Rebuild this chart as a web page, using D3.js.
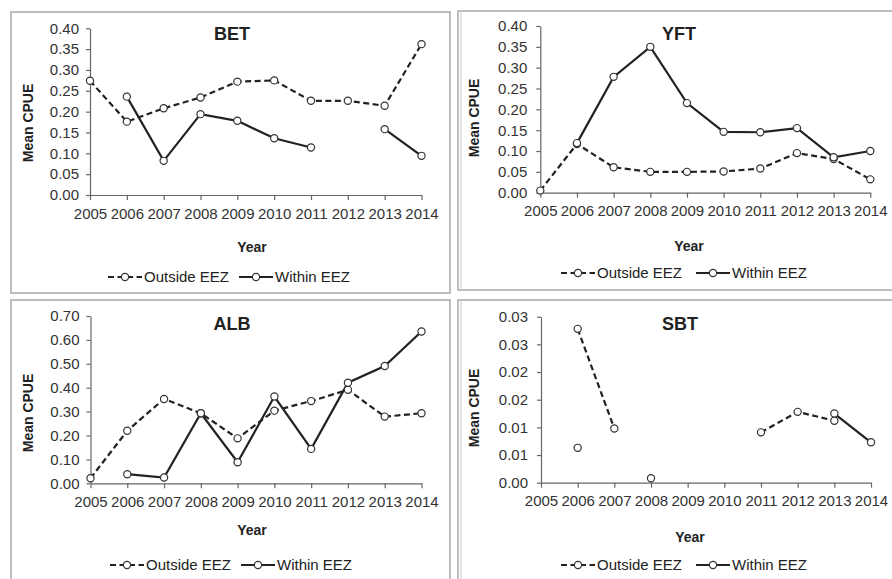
<!DOCTYPE html>
<html><head><meta charset="utf-8">
<script src="https://cdn.jsdelivr.net/npm/d3@7"></script>
<style>body{margin:0;background:#fff}svg{display:block}</style>
</head><body>
<svg id="c" width="892" height="579"></svg>
<script>
const years = [2005,2006,2007,2008,2009,2010,2011,2012,2013,2014];
const seriesNames = ["Outside EEZ","Within EEZ"];

const betOutside = [0.274,0.176,0.208,0.234,0.272,0.275,0.226,0.226,0.214,0.362];
const betWithin  = [null,0.236,0.082,0.194,0.178,0.136,0.114,null,0.158,0.094];
const yftOutside = [0.005,0.117,0.061,0.050,0.050,0.051,0.058,0.095,0.081,0.032];
const yftWithin  = [null,0.119,0.278,0.350,0.215,0.146,0.145,0.155,0.085,0.100];
const albOutside = [0.021,0.220,0.353,0.293,0.188,0.304,0.344,0.391,0.279,0.293];
const albWithin  = [null,0.038,0.024,0.293,0.088,0.363,0.144,0.421,0.491,0.635];
const sbtOutside = [null,0.0278,0.0098,null,null,null,0.0091,0.0128,0.0112,null];
const sbtWithin  = [null,0.0063,null,0.0008,null,null,null,null,0.0125,0.0073];

const betTicks = [0,0.05,0.10,0.15,0.20,0.25,0.30,0.35,0.40];
const yftTicks = [0,0.05,0.10,0.15,0.20,0.25,0.30,0.35,0.40];
const albTicks = [0,0.10,0.20,0.30,0.40,0.50,0.60,0.70];
const sbtTicks = [0,0.005,0.010,0.015,0.020,0.025,0.030];
const sbtTickLabels = ["0.00","0.01","0.01","0.02","0.02","0.03","0.03"];

const svg = d3.select("#c");
const INK = "#222";
const FONT = "Liberation Sans, Arial, sans-serif";

const panels = [
  {title:"BET", out:betOutside, wit:betWithin, ticks:betTicks, labels:null,
   box:[11,12,439,281], xr:[90,421.5], yr:[195,28.3], tpad:7,
   title_pos:[232,39.5], xlab:[252,252], ylab:[28,123], leg:{y:277,x:108}},
  {title:"YFT", out:yftOutside, wit:yftWithin, ticks:yftTicks, labels:null,
   box:[458,11,460,279], xr:[540.3,870.3], yr:[192.7,26], tpad:9,
   title_pos:[679,39.5], xlab:[689,251], ylab:[474,118], leg:{y:273,x:561}},
  {title:"ALB", out:albOutside, wit:albWithin, ticks:albTicks, labels:null,
   box:[11,300,439,300], xr:[90.5,421.5], yr:[483.3,316], tpad:7,
   title_pos:[232,329.5], xlab:[252,535], ylab:[28,413], leg:{y:565,x:110}},
  {title:"SBT", out:sbtOutside, wit:sbtWithin, ticks:sbtTicks, labels:sbtTickLabels,
   box:[458,300,460,300], xr:[541,871], yr:[482.7,316.7], tpad:9,
   title_pos:[680,329.5], xlab:[690,542], ylab:[474,408], leg:{y:565,x:561}}
];

panels.forEach(p => {
  const g = svg.append("g");
  const [bx,by,bw,bh] = p.box;
  g.append("rect").attr("x",bx).attr("y",by).attr("width",bw).attr("height",bh)
    .attr("fill","none").attr("stroke","#a8a8a8").attr("stroke-width",1.5);
  if (bx > 400) {
    g.append("line").attr("x1",bx+3).attr("x2",bx+3).attr("y1",by).attr("y2",by+bh)
      .attr("stroke","#c8c8c8").attr("stroke-width",1);
  }
  const x = d3.scaleLinear().domain([years[0], years[years.length-1]]).range(p.xr);
  const y = d3.scaleLinear().domain([0, p.ticks[p.ticks.length-1]]).range(p.yr);

  const yAxis = d3.axisLeft(y).tickValues(p.ticks).tickSize(4).tickSizeOuter(0).tickPadding(p.tpad)
    .tickFormat((d,i) => p.labels ? p.labels[i] : d3.format(".2f")(d));
  const ya = g.append("g").attr("transform",`translate(${p.xr[0]},0)`).call(yAxis);
  const xAxis = d3.axisBottom(x).tickValues(years).tickSize(5).tickSizeOuter(0).tickPadding(8)
    .tickFormat(d3.format("d"));
  const xa = g.append("g").attr("transform",`translate(0,${p.yr[0]})`).call(xAxis);
  [ya,xa].forEach(a => {
    a.selectAll("path,line").attr("stroke","#666").attr("stroke-width",1.2);
    a.selectAll("text").attr("font-family",FONT).attr("font-size",15).attr("fill","#333");
  });

  g.append("text").attr("x", p.title_pos[0]).attr("y", p.title_pos[1])
    .attr("text-anchor","middle").attr("font-family",FONT).attr("font-weight","bold")
    .attr("font-size",18).attr("fill","#222").text(p.title);
  g.append("text").attr("x", p.xlab[0]).attr("y", p.xlab[1]).attr("text-anchor","middle")
    .attr("font-family",FONT).attr("font-weight","bold").attr("font-size",14).attr("fill","#222").text("Year");
  g.append("text").attr("transform",`translate(${p.ylab[0]+5},${p.ylab[1]}) rotate(-90)`)
    .attr("text-anchor","middle").attr("font-family",FONT).attr("font-weight","bold")
    .attr("font-size",14).attr("fill","#222").text("Mean CPUE");

  const series = [
    {vals:p.out, dash:"6,3.5"},
    {vals:p.wit, dash:null}
  ];
  series.forEach(s => {
    const pts = years.map((yr,i) => ({yr, v:s.vals[i]}));
    const line = d3.line().defined(d => d.v != null).x(d => x(d.yr)).y(d => y(d.v));
    g.append("path").attr("d", line(pts)).attr("fill","none").attr("stroke",INK)
      .attr("stroke-width",2.2).attr("stroke-dasharray", s.dash);
  });
  series.forEach(s => {
    const pts = years.map((yr,i) => ({yr, v:s.vals[i]})).filter(d => d.v != null);
    g.selectAll(null).data(pts).enter().append("circle")
      .attr("cx", d => x(d.yr)).attr("cy", d => y(d.v)).attr("r",3.6)
      .attr("fill","#fff").attr("stroke","#333").attr("stroke-width",1.2);
  });

  const L = p.leg;
  const items = [
    {name:seriesNames[0], dash:"6,3.5", x0:L.x},
    {name:seriesNames[1], dash:null, x0:L.x + (p.box[0] > 400 ? 135 : 131)}
  ];
  items.forEach(it => {
    g.append("line").attr("x1",it.x0).attr("x2",it.x0+34).attr("y1",L.y).attr("y2",L.y)
      .attr("stroke",INK).attr("stroke-width",2.2).attr("stroke-dasharray",it.dash);
    g.append("circle").attr("cx",it.x0+17).attr("cy",L.y).attr("r",3.6)
      .attr("fill","#fff").attr("stroke","#333").attr("stroke-width",1.2);
    g.append("text").attr("x",it.x0+36).attr("y",L.y+5).attr("font-family",FONT)
      .attr("font-size",15).attr("fill","#222").text(it.name);
  });
});
</script>
</body></html>
